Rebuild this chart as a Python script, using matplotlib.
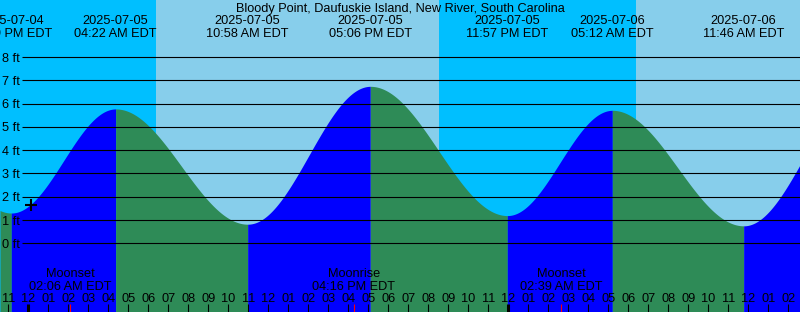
import numpy as np
import matplotlib
matplotlib.use("Agg")
import matplotlib.pyplot as plt

plt.rcParams['font.family'] = ['Liberation Sans', 'DejaVu Sans']

station = "Bloody Point, Daufuskie Island, New River, South Carolina"

# Tide extremes, hours relative to 2025-07-05 00:00 EDT (first and last lie outside the view)
tide_hours = [-7.0, -0.85, 4.367, 10.967, 17.1, 23.95, 29.2, 35.767, 41.87]
tide_heights = [6.5, 1.30, 5.77, 0.82, 6.74, 1.19, 5.71, 0.75, 6.7]
tide_dates = ["2025-07-04", "2025-07-04", "2025-07-05", "2025-07-05", "2025-07-05",
              "2025-07-05", "2025-07-06", "2025-07-06", "2025-07-06"]
tide_times = ["04:50 PM EDT", "11:09 PM EDT", "04:22 AM EDT", "10:58 AM EDT", "05:06 PM EDT",
              "11:57 PM EDT", "05:12 AM EDT", "11:46 AM EDT", "05:52 PM EDT"]

sunrise_hours = [6.383, 30.383]
sunset_hours = [20.533]

moon_events = ["Moonset", "Moonrise", "Moonset"]
moon_times = ["02:06 AM EDT", "04:16 PM EDT", "02:39 AM EDT"]
moon_hours = [2.1, 16.267, 26.65]

now_hour = 0.12
now_height = 1.64

feet_levels = [0, 1, 2, 3, 4, 5, 6, 7, 8]
hour_ticks = list(range(-1, 39))

# ---- geometry (pixel mapping) ----
PX0, PXH = 28.3, 20.0          # x pixel of midnight, pixels per hour
PY0, PYF = 243.3, 23.29        # y pixel of 0 ft, pixels per foot
W, H = 800, 312

def hx(px):
    return (px - PX0) / PXH

def fy(py):
    return (PY0 - py) / PYF

xmin, xmax = hx(0), hx(W)
ymin, ymax = fy(H), fy(0)

NIGHT = "#00BFFF"
DAY = "#87CEEB"
RISE = "#0000FF"
FALL = "#2E8B57"
FS = 9.2

fig = plt.figure(figsize=(8, 3.12), dpi=100)
ax = fig.add_axes([0, 0, 1, 1])
ax.set_xlim(xmin, xmax)
ax.set_ylim(ymin, ymax)
ax.axis("off")

# day / night background
edges = [xmin] + sorted(sunrise_hours + sunset_hours) + [xmax]
night = True
for a, b in zip(edges[:-1], edges[1:]):
    ax.axvspan(a, b, color=NIGHT if night else DAY, lw=0, zorder=0)
    night = not night

# tide curve between extremes
for i in range(len(tide_hours) - 1):
    a, b = tide_hours[i], tide_hours[i + 1]
    ha_, hb_ = tide_heights[i], tide_heights[i + 1]
    lo, hi = max(a, xmin), min(b, xmax)
    if hi <= lo:
        continue
    t = np.linspace(lo, hi, 400)
    f = (t - a) / (b - a)
    h = ha_ + (hb_ - ha_) * (1 - np.cos(np.pi * f)) / 2
    ax.fill_between(t, ymin, h, color=RISE if hb_ > ha_ else FALL, lw=0, zorder=1)

# grid lines and labels
ax.hlines(feet_levels, hx(22), xmax, color="black", lw=0.8, zorder=3)
for k in feet_levels:
    ax.text(hx(2), k - 4.6 / PYF, f"{k} ft", ha="left", va="baseline", fontsize=FS, zorder=4)

# title
ax.text(hx(400), fy(11.8), station, ha="center", va="baseline", fontsize=FS, zorder=4)

# extreme labels
for th, d, tm in zip(tide_hours, tide_dates, tide_times):
    if xmin - 3 < th < xmax + 3:
        ax.text(th, fy(24.0), d, ha="center", va="baseline", fontsize=FS, zorder=4)
        ax.text(th, fy(36.6), tm, ha="center", va="baseline", fontsize=FS, zorder=4)

# moon events
for mh, ev, mt in zip(moon_hours, moon_events, moon_times):
    ax.text(mh, fy(277.0), ev, ha="center", va="baseline", fontsize=FS, zorder=4)
    ax.text(mh, fy(289.6), mt, ha="center", va="baseline", fontsize=FS, zorder=4)
    ax.vlines(mh, ymin, fy(304), color="red", lw=0.8, zorder=4)

# hour ticks and labels
for hr in hour_ticks:
    hod = hr % 24
    disp = hod % 12 or 12
    ax.text(hr, fy(301.6), f"{disp:02d}", ha="center", va="baseline", fontsize=FS, zorder=4)
    ax.vlines(hr, ymin, fy(304), color="black", lw=2.2 if hod == 0 else 0.8, zorder=4)

# current time marker
ax.plot([now_hour], [now_height], marker="+", color="black", ms=8, mew=1.5, zorder=5)

fig.savefig("out.png", dpi=100)
